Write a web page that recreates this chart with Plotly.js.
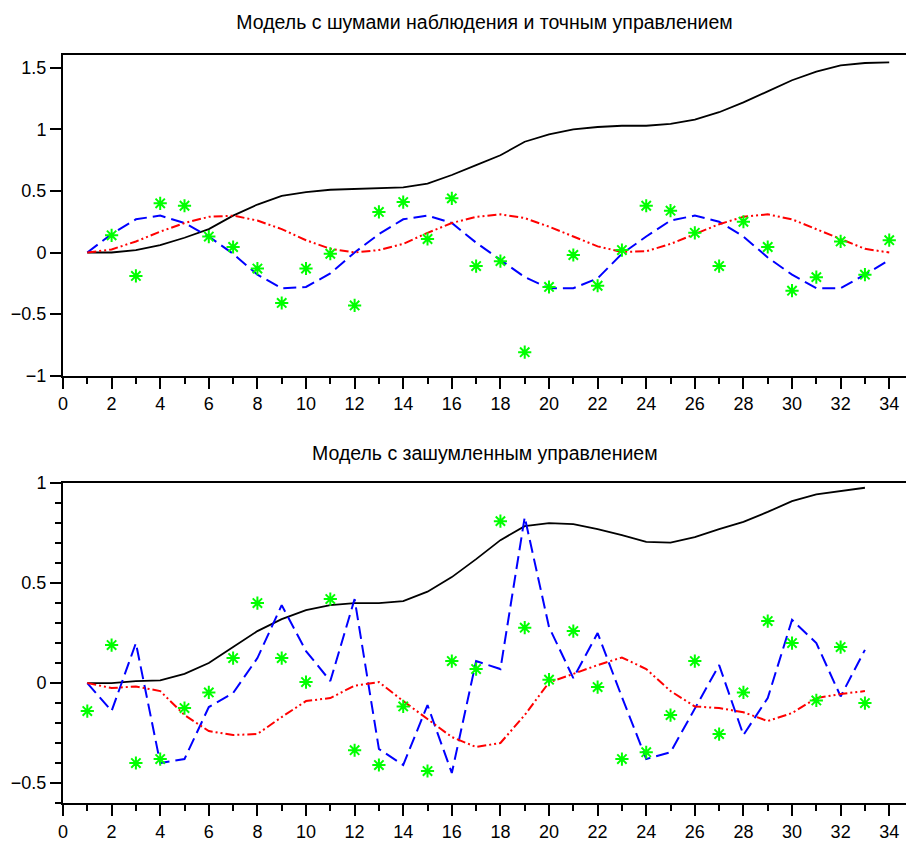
<!DOCTYPE html>
<html>
<head>
<meta charset="utf-8">
<script src="https://cdn.plot.ly/plotly-3.0.1.min.js"></script>
<style>html,body{margin:0;padding:0;background:#fff;}#chart{width:906px;height:842px;}</style>
</head>
<body>
<div id="chart"></div>
<script>
// ---- data: top panel ----
const titleTop = "Модель с шумами наблюдения и точным управлением";
const titleBottom = "Модель с зашумленным управлением";

const xTop = [1,2,3,4,5,6,7,8,9,10,11,12,13,14,15,16,17,18,19,20,21,22,23,24,25,26,27,28,29,30,31,32,33,34];
const topTrue = [0,0,0.02,0.06,0.12,0.19,0.30,0.39,0.46,0.49,0.51,0.515,0.52,0.53,0.56,0.63,0.71,0.79,0.90,0.96,1.0,1.02,1.03,1.03,1.045,1.08,1.14,1.22,1.31,1.40,1.47,1.52,1.54,1.545];
const topBlue = [0,0.15,0.27,0.30,0.24,0.13,-0.01,-0.18,-0.29,-0.28,-0.17,0.0,0.15,0.27,0.30,0.24,0.08,-0.06,-0.20,-0.29,-0.29,-0.21,-0.01,0.13,0.26,0.30,0.25,0.13,-0.04,-0.18,-0.29,-0.29,-0.18,-0.06];
const topRed = [0,0.025,0.09,0.17,0.24,0.29,0.30,0.26,0.19,0.10,0.03,0.0,0.02,0.07,0.16,0.24,0.29,0.31,0.28,0.21,0.13,0.05,0.005,0.01,0.07,0.15,0.23,0.29,0.31,0.27,0.19,0.105,0.03,0.0];
const xTopObs = [2,3,4,5,6,7,8,9,10,11,12,13,14,15,16,17,18,19,20,21,22,23,24,25,26,27,28,29,30,31,32,33,34];
const topObs = [0.14,-0.19,0.40,0.38,0.13,0.045,-0.13,-0.41,-0.13,-0.01,-0.43,0.33,0.41,0.11,0.44,-0.11,-0.07,-0.81,-0.28,-0.02,-0.27,0.02,0.38,0.34,0.16,-0.11,0.25,0.045,-0.31,-0.20,0.09,-0.18,0.10];

// ---- data: bottom panel ----
const xBot = [1,2,3,4,5,6,7,8,9,10,11,12,13,14,15,16,17,18,19,20,21,22,23,24,25,26,27,28,29,30,31,32,33];
const botTrue = [0,0,0.01,0.013,0.046,0.10,0.18,0.26,0.32,0.365,0.39,0.40,0.40,0.41,0.457,0.53,0.62,0.715,0.785,0.80,0.795,0.77,0.74,0.706,0.703,0.73,0.77,0.806,0.856,0.91,0.944,0.96,0.977];
const botBlue = [0,-0.14,0.20,-0.40,-0.38,-0.12,-0.05,0.125,0.39,0.16,0.01,0.42,-0.33,-0.41,-0.11,-0.45,0.11,0.07,0.83,0.28,0.025,0.25,-0.07,-0.38,-0.346,-0.13,0.09,-0.26,-0.075,0.316,0.20,-0.067,0.166];
const botRed = [0,-0.025,-0.017,-0.04,-0.16,-0.24,-0.26,-0.255,-0.17,-0.09,-0.075,-0.013,0.005,-0.09,-0.18,-0.27,-0.32,-0.30,-0.16,0.003,0.046,0.09,0.128,0.07,-0.04,-0.117,-0.125,-0.146,-0.19,-0.15,-0.075,-0.055,-0.04];
const botObs = [-0.14,0.19,-0.40,-0.38,-0.125,-0.047,0.125,0.40,0.125,0.005,0.42,-0.336,-0.41,-0.117,-0.44,0.11,0.07,0.81,0.277,0.017,0.26,-0.02,-0.38,-0.346,-0.16,0.11,-0.255,-0.047,0.31,0.20,-0.087,0.18,-0.10];

const xTickVals = [0,2,4,6,8,10,12,14,16,18,20,22,24,26,28,30,32,34];

const fontFam = "Liberation Sans, Arial, sans-serif";
const tickFont = {family:fontFam, size:18, color:'#000'};
const titleFont = {family:fontFam, size:19.5, color:'#000'};
const lineBlack = {color:'#000000', width:1.8};
const lineBlue = {color:'#0000ff', width:2, dash:'13px,6px'};
const lineRed = {color:'#ff0000', width:2, dash:'9px,3px,2px,3px,2px,3px'};
const mk = {symbol:'asterisk-open', size:11, color:'#00ff00', line:{color:'#00ff00', width:2}};

const traces = [
  {x:xTop, y:topTrue, xaxis:'x', yaxis:'y', mode:'lines', line:lineBlack},
  {x:xTop, y:topBlue, xaxis:'x', yaxis:'y', mode:'lines', line:lineBlue},
  {x:xTop, y:topRed, xaxis:'x', yaxis:'y', mode:'lines', line:lineRed},
  {x:xTopObs, y:topObs, xaxis:'x', yaxis:'y', mode:'markers', marker:mk},
  {x:xBot, y:botTrue, xaxis:'x2', yaxis:'y2', mode:'lines', line:lineBlack},
  {x:xBot, y:botBlue, xaxis:'x2', yaxis:'y2', mode:'lines', line:lineBlue},
  {x:xBot, y:botRed, xaxis:'x2', yaxis:'y2', mode:'lines', line:lineRed},
  {x:xBot, y:botObs, xaxis:'x2', yaxis:'y2', mode:'markers', marker:mk}
];

function xax(anchor){
  return {
    anchor: anchor, range:[0,34.69], showgrid:false, zeroline:false,
    showline:true, linecolor:'#000', linewidth:2, mirror:true,
    tickmode:'array', tickvals:xTickVals, ticks:'outside', ticklen:11, tickwidth:2, tickcolor:'#000',
    minor:{dtick:1, tick0:0, ticks:'outside', ticklen:6, tickwidth:2, tickcolor:'#000', showgrid:false},
    tickfont:tickFont
  };
}

const layout = {
  width:906, height:842,
  margin:{l:63, r:0, t:55, b:39},
  paper_bgcolor:'#fff', plot_bgcolor:'#fff',
  showlegend:false,
  font:{family:fontFam, color:'#000'},
  title:{text:titleTop, font:titleFont, xref:'paper', x:0.5, xanchor:'center', yref:'container', y:1-22/842, yanchor:'middle'},
  xaxis: xax('y'),
  xaxis2: xax('y2'),
  yaxis: {domain:[0.5714,1], anchor:'x', range:[-1,1.605], showgrid:false, zeroline:false,
    showline:true, linecolor:'#000', linewidth:2,
    tickmode:'linear', tick0:-1, dtick:0.5, ticks:'outside', ticklen:11, tickwidth:2, tickcolor:'#000',
    tickfont:tickFont},
  yaxis2: {domain:[0,0.4276], anchor:'x2', range:[-0.6,1], showgrid:false, zeroline:false,
    showline:true, linecolor:'#000', linewidth:2,
    tickmode:'linear', tick0:-0.5, dtick:0.5, ticks:'outside', ticklen:11, tickwidth:2, tickcolor:'#000',
    minor:{dtick:0.1, tick0:0, ticks:'outside', ticklen:6, tickwidth:2, tickcolor:'#000', showgrid:false},
    tickfont:tickFont},
  annotations:[
    {text:titleBottom, xref:'paper', yref:'paper', x:0.5, y:(803.3-453)/748.3, xanchor:'center', yanchor:'middle', showarrow:false,
     font:titleFont}
  ]
};

Plotly.newPlot('chart', traces, layout, {staticPlot:true, displayModeBar:false});
</script>
</body>
</html>
